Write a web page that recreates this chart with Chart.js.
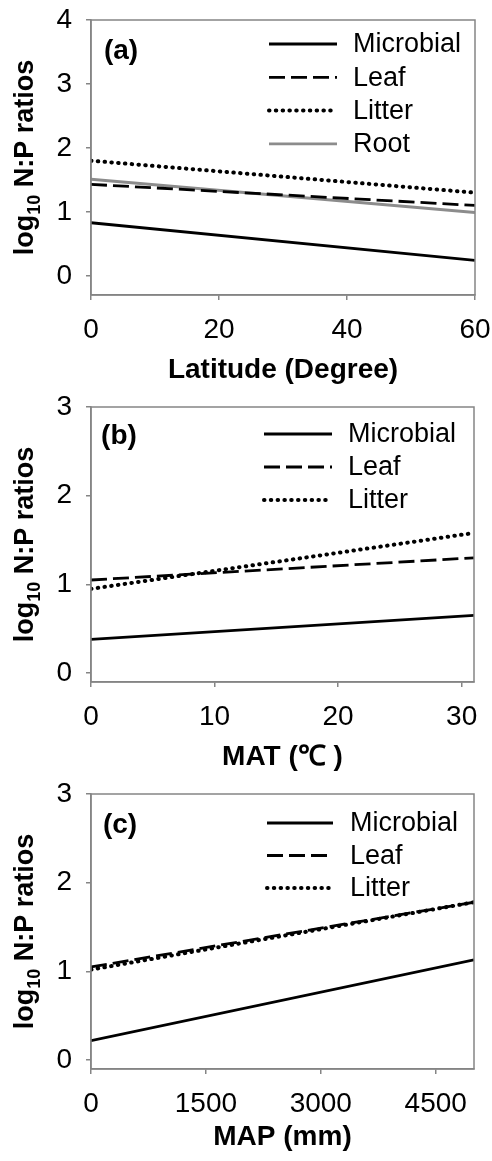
<!DOCTYPE html>
<html lang="en">
<head>
<meta charset="UTF-8">
<title>log10 N:P ratios</title>
<script src="https://cdn.jsdelivr.net/npm/chart.js"></script>
<style>
  body { margin: 0; background: #fff; }
  .panel { width: 492px; height: 387px; }
</style>
</head>
<body>
<div class="panel"><canvas id="chartA" width="492" height="387"></canvas></div>
<div class="panel"><canvas id="chartB" width="492" height="387"></canvas></div>
<div class="panel"><canvas id="chartC" width="492" height="387"></canvas></div>

<script>
// (a) latitude, regression end points
const latX = [0, 60];
const latTicks = [0, 20, 40, 60];
const latMicrobial = [0.83, 0.24];
const latLeaf = [1.43, 1.10];
const latLitter = [1.80, 1.30];
const latRoot = [1.51, 0.99];

// (b) mean annual temperature
const matX = [0, 31];
const matTicks = [0, 10, 20, 30];
const matMicrobial = [0.38, 0.65];
const matLeaf = [1.05, 1.30];
const matLitter = [0.95, 1.58];

// (c) mean annual precipitation
const mapX = [0, 5000];
const mapTicks = [0, 1500, 3000, 4500];
const mapMicrobial = [0.22, 1.13];
const mapLeaf = [1.05, 1.78];
const mapLitter = [1.02, 1.78];

const yTicksA = [0, 1, 2, 3, 4];
const yTicksBC = [0, 1, 2, 3];

const FONT = "'Liberation Sans', Arial, sans-serif";
const GREY = '#858585';

const styles = {
  Microbial: { borderColor: '#000', borderWidth: 2.8, borderDash: [] },
  Leaf: { borderColor: '#000', borderWidth: 2.8, borderDash: [16, 6] },
  Litter: { borderColor: '#000', borderWidth: 4, borderDash: [0.5, 6.3], borderCapStyle: 'round' },
  Root: { borderColor: '#8c8c8c', borderWidth: 2.8, borderDash: [] }
};

function series(name, xs, ys) {
  return Object.assign({
    label: name,
    data: xs.map((x, i) => ({ x: x, y: ys[i] })),
    pointRadius: 0,
    fill: false,
    tension: 0
  }, styles[name]);
}

// frame, panel letter, legend inside the plot and the y title with subscript
const decor = {
  id: 'decor',
  afterDraw(chart, args, o) {
    const ctx = chart.ctx;
    const a = chart.chartArea;
    ctx.save();
    ctx.strokeStyle = GREY;
    ctx.lineWidth = 1.5;
    ctx.strokeRect(a.left, a.top, a.right - a.left, a.bottom - a.top);

    ctx.fillStyle = '#000';
    ctx.textBaseline = 'middle';
    ctx.textAlign = 'center';
    ctx.font = 'bold 28px ' + FONT;
    ctx.fillText(o.tag, o.tagX, o.tagY);

    ctx.textAlign = 'left';
    ctx.font = '27px ' + FONT;
    chart.data.datasets.forEach((ds, i) => {
      const y = o.legY + i * o.legDy;
      ctx.save();
      ctx.strokeStyle = ds.borderColor;
      ctx.lineWidth = ds.borderWidth;
      ctx.lineCap = ds.borderCapStyle || 'butt';
      ctx.setLineDash(ds.borderDash);
      ctx.beginPath();
      ctx.moveTo(o.legX1, y);
      ctx.lineTo(o.legX2, y);
      ctx.stroke();
      ctx.restore();
      ctx.fillText(ds.label, o.legTx, y + 1);
    });

    // log10 N:P ratios, rotated
    const main = 'bold 27px ' + FONT;
    const sub = 'bold 18px ' + FONT;
    ctx.font = main;
    const w1 = ctx.measureText('log').width;
    const w3 = ctx.measureText(' N:P ratios').width;
    ctx.font = sub;
    const w2 = ctx.measureText('10').width;
    const total = w1 + w2 + w3;
    ctx.translate(33, (a.top + a.bottom) / 2);
    ctx.rotate(-Math.PI / 2);
    ctx.textBaseline = 'alphabetic';
    let x = -total / 2;
    ctx.font = main;
    ctx.fillText('log', x, 0);
    x += w1;
    ctx.font = sub;
    ctx.fillText('10', x, 7);
    x += w2;
    ctx.font = main;
    ctx.fillText(' N:P ratios', x, 0);
    ctx.restore();
  }
};

function makeChart(id, datasets, xMin, xMax, xTicks, yMin, yMax, yTicks, xTitle, titlePad, rightPad, deco) {
  return new Chart(document.getElementById(id), {
    type: 'line',
    data: { datasets: datasets },
    options: {
      responsive: false,
      animation: false,
      devicePixelRatio: 1,
      layout: { padding: { left: 0, right: rightPad, top: 20, bottom: 0 } },
      plugins: {
        legend: { display: false },
        tooltip: { enabled: false },
        decor: deco
      },
      scales: {
        x: {
          type: 'linear',
          min: xMin,
          max: xMax,
          afterBuildTicks: axis => { axis.ticks = xTicks.map(v => ({ value: v })); },
          afterFit: axis => {
            axis.height = 92;
            axis.paddingLeft = 0;
            axis.paddingRight = 0;
          },
          grid: { drawOnChartArea: false, color: GREY, tickLength: 5, lineWidth: 1.5 },
          border: { color: GREY, width: 1.5 },
          ticks: { color: '#000', padding: 13, maxRotation: 0, callback: v => String(v), font: { family: FONT, size: 28 } },
          title: {
            display: true,
            text: xTitle,
            color: '#000',
            padding: { top: 0, bottom: titlePad },
            font: { family: FONT, size: 28, weight: 'bold' }
          }
        },
        y: {
          min: yMin,
          max: yMax,
          afterBuildTicks: axis => { axis.ticks = yTicks.map(v => ({ value: v })); },
          afterFit: axis => {
            axis.width = 91;
            axis.paddingTop = 0;
            axis.paddingBottom = 0;
          },
          grid: { drawOnChartArea: false, color: GREY, tickLength: 5, lineWidth: 1.5 },
          border: { color: GREY, width: 1.5 },
          ticks: { color: '#000', padding: 14, callback: v => String(v), font: { family: FONT, size: 28 } }
        }
      }
    },
    plugins: [decor]
  });
}

makeChart('chartA', [
  series('Microbial', latX, latMicrobial),
  series('Leaf', latX, latLeaf),
  series('Litter', latX, latLitter),
  series('Root', latX, latRoot)
], 0, 60, latTicks, -0.3, 4, yTicksA, 'Latitude (Degree)', 0, 17,
  { tag: '(a)', tagX: 121, tagY: 51, legX1: 269, legX2: 337, legTx: 353, legY: 44, legDy: 33.3 });

makeChart('chartB', [
  series('Microbial', matX, matMicrobial),
  series('Leaf', matX, matLeaf),
  series('Litter', matX, matLitter)
], 0, 31, matTicks, -0.1, 3, yTicksBC, 'MAT (\u2103 )', 0, 18,
  { tag: '(b)', tagX: 119, tagY: 49, legX1: 264, legX2: 332, legTx: 348, legY: 47, legDy: 33 });

makeChart('chartC', [
  series('Microbial', mapX, mapMicrobial),
  series('Leaf', mapX, mapLeaf),
  series('Litter', mapX, mapLitter)
], 0, 5000, mapTicks, -0.1, 3, yTicksBC, 'MAP (mm)', 7, 18,
  { tag: '(c)', tagX: 120, tagY: 51, legX1: 267, legX2: 333, legTx: 350, legY: 49, legDy: 32.5 });
</script>
</body>
</html>
